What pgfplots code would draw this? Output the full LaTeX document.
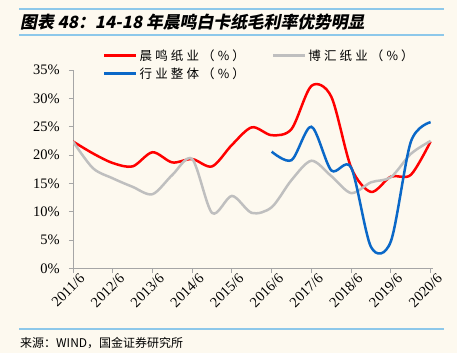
\documentclass[border=0pt]{standalone}
\usepackage{fontspec}
\usepackage{pgfplots}
\pgfplotsset{compat=1.18}
\setmainfont{Liberation Serif}
\newfontfamily\cjk{Noto Sans CJK SC}
\newfontfamily\cjkls{Noto Sans CJK SC}[LetterSpace=25]
\newfontfamily\titlecjk{Noto Sans CJK SC}[FakeSlant=0.2]
\definecolor{bgc}{HTML}{FDF9EF}
\definecolor{rulec}{HTML}{8DC8EA}
\definecolor{axisc}{HTML}{A6A6A6}
\definecolor{redc}{HTML}{FF0000}
\definecolor{grayc}{HTML}{BFBFBF}
\definecolor{bluec}{HTML}{0A68C8}
\begin{document}
\begin{tikzpicture}
\fill[bgc] (0,0) rectangle (457bp,-353bp);
\useasboundingbox (0,0) rectangle (457bp,-353bp);
\draw[rulec, line width=1.5bp] (19bp,-9bp) -- (444bp,-9bp);
\draw[rulec, line width=1.5bp] (19bp,-35bp) -- (444bp,-35bp);
\draw[rulec, line width=1.5bp] (19bp,-329bp) -- (444bp,-329bp);
\node[anchor=west, inner sep=0pt] at (20bp,-22bp) {\titlecjk\bfseries\fontsize{16.8bp}{18bp}\selectfont 图表 48：14-18 年晨鸣白卡纸毛利率优势明显};
\node[anchor=west, inner sep=0pt] at (20bp,-343bp) {\cjk\fontsize{12bp}{14bp}\selectfont 来源：WIND，国金证券研究所};
\begin{axis}[
  at={(73bp,-268.5bp)}, anchor=south west,
  scale only axis, width=360bp, height=198.5bp,
  xmin=0, xmax=18.12, ymin=0, ymax=35,
  axis x line=bottom, axis y line=left,
  axis line style={-, draw=axisc, line width=1bp},
  tick style={draw=axisc, line width=1bp},
  tick align=outside, major tick length=4bp,
  xtick={0,2,...,18},
  xticklabels={2011/6,2012/6,2013/6,2014/6,2015/6,2016/6,2017/6,2018/6,2019/6,2020/6},
  ytick={0,5,...,35},
  yticklabels={0\%,5\%,10\%,15\%,20\%,25\%,30\%,35\%},
  xticklabel style={rotate=45, anchor=north east, font=\fontsize{14.5bp}{16bp}\selectfont, inner sep=1bp, xshift=5bp, yshift=-3bp},
  yticklabel style={font=\fontsize{14.5bp}{16bp}\selectfont, inner sep=0pt, xshift=-9bp},
  legend columns=2,
  legend cell align=left,
  legend style={at={(0.075,1.125)}, anchor=north west, draw=none, fill=none,
    font=\cjkls\fontsize{12.5bp}{14bp}\selectfont, row sep=2bp,
    /tikz/every even column/.append style={column sep=25bp}},
  legend image code/.code={\draw[#1] (0bp,0bp) -- (32bp,0bp);},
  every axis plot/.append style={line width=2.5bp, smooth, tension=0.5},
]
\addplot[redc] coordinates {
(0,22.4) (1,20.3) (2,18.6) (3,18.0) (4,20.5) (5,18.7) (6,19.3) (7,18.0) (8,21.8) (9,24.9)
(10,23.5) (11,24.6) (12,32.2) (13,30.3) (14,17.8) (15,13.5) (16,16.2) (17,16.5) (18,22.4)};
\addlegendentry{晨鸣纸业（\%）}
\addplot[grayc] coordinates {
(0,22.4) (1,17.7) (2,15.9) (3,14.4) (4,13.1) (5,16.5) (6,19.3) (7,9.8) (8,12.8) (9,9.8)
(10,10.8) (11,15.6) (12,19.0) (13,16.3) (14,13.3) (15,15.2) (16,16.1) (17,20.2) (18,22.5)};
\addlegendentry{博汇纸业（\%）}
\addplot[bluec] coordinates {
(10,20.6) (11,19.1) (12,25.0) (13,17.3) (14,17.8) (15,3.8) (16,4.8) (17,22.3) (18,25.8)};
\addlegendentry{行业整体（\%）}
\end{axis}
\end{tikzpicture}
\end{document}
